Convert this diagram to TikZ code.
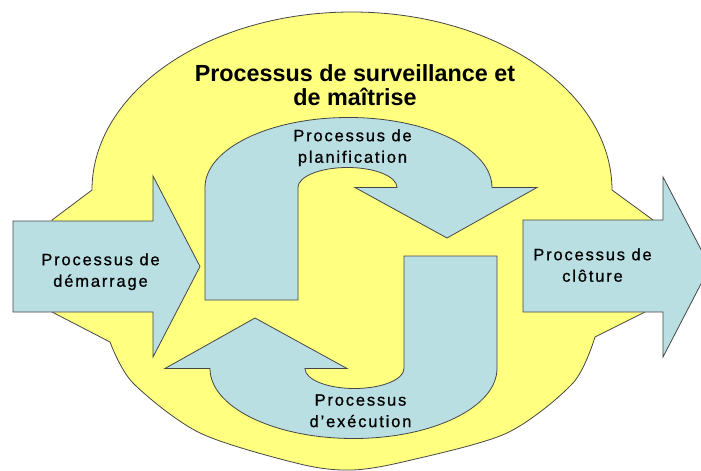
\documentclass[tikz,border=0pt]{standalone}
\usepackage{fontspec}
\setmainfont{Liberation Sans}
\newfontfamily\espace[LetterSpace=11,FakeBold=0.8]{Liberation Sans}
\usepackage{xcolor}
\usepackage{tikz}
\usetikzlibrary{calc}

\definecolor{jaune}{RGB}{255,255,128}
\definecolor{ciel}{RGB}{185,223,227}
\definecolor{trait}{RGB}{70,70,70}

\tikzset{
  forme/.style={fill=ciel, draw=trait, line width=0.6pt},
  etiquette/.style={anchor=north, align=center, inner sep=0pt, font=\espace\fontsize{12.4}{16.1}\selectfont},
  titre/.style={anchor=north, align=center, inner sep=0pt, font=\bfseries\fontsize{17.5}{18}\selectfont}
}

\begin{document}
\begin{tikzpicture}[x=0.75pt,y=-0.75pt]
\useasboundingbox (0,0) rectangle (701,471);
\clip (0,0) rectangle (701,471);

%% surveillance et maitrise
\draw[fill=jaune, draw=trait, line width=0.6pt] (52,220) -- (92,190)
  arc[start angle=180, end angle=360, x radius=260, y radius=178]
  -- (653,220) -- (645,312)
  -- plot[smooth] coordinates {(595,337) (573,383) (507,433) (407,461) (352,470) (300,464) (200,433) (133,383) (110,342)}
  -- (52,312) -- cycle;

%% demarrage
\draw[forme] (13,221) -- (153,221) -- (153,176) -- (200,266.5) -- (153,357) -- (153,312) -- (13,312) -- cycle;
%% cloture
\draw[forme] (523,220) -- (663,220) -- (663,177) -- (710,266.5) -- (663,357) -- (663,312) -- (523,312) -- cycle;

%% planification
\draw[forme] (205,300) -- (205,187.5)
  arc[start angle=180, end angle=360, x radius=143.5, y radius=70]
  -- (537,187.5) -- (447,238) -- (355,187.5) -- (397,187.5)
  arc[start angle=0, end angle=-180, x radius=49.5, y radius=20]
  -- (298,300) -- cycle;
%% execution
\draw[forme] (497,256) -- (497,368.5)
  arc[start angle=0, end angle=180, x radius=143.5, y radius=70]
  -- (165,368.5) -- (255,318) -- (347,368.5) -- (305,368.5)
  arc[start angle=180, end angle=0, x radius=49.5, y radius=20]
  -- (404,256) -- cycle;

\node[titre] (surveillance) at (355,64) {Processus de surveillance et\\de maîtrise};
\node[etiquette] (demarrage) at (100.5,253) {Processus de\\démarrage};
\node[etiquette] (planification) at (352.5,129) {Processus de\\planification};
\node[etiquette] (cloture) at (592.5,248) {Processus de\\clôture};
\node[etiquette] (execution) at (360.5,394) {Processus\\d’exécution};
\end{tikzpicture}
\end{document}
